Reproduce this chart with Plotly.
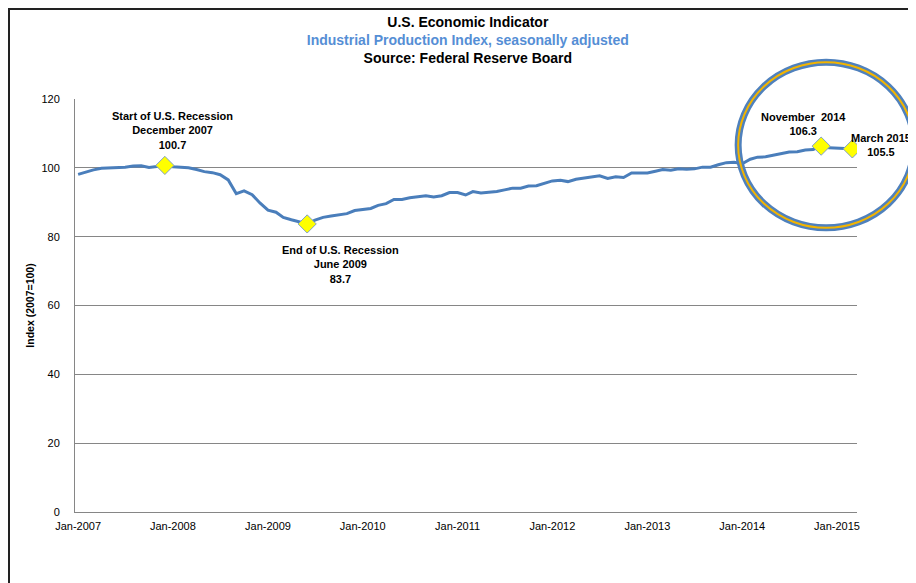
import plotly.graph_objects as go
import pandas as pd

# Industrial Production Index (2007=100), monthly, Jan 2007 - Mar 2015
months = pd.date_range("2007-01-01", periods=99, freq="MS")
ip_2007 = [98.1, 98.9, 99.4, 99.9, 100.0, 100.0, 100.2, 100.5, 100.6, 100.1, 100.5, 100.7]
ip_2008 = [100.3, 100.2, 100.0, 99.5, 98.9, 98.6, 98.0, 96.5, 92.5, 93.3, 92.2, 89.8]
ip_2009 = [87.7, 87.1, 85.6, 84.9, 84.3, 83.7, 84.8, 85.6, 86.0, 86.3, 86.7, 87.6]
ip_2010 = [88.0, 88.2, 89.1, 89.6, 90.8, 90.8, 91.3, 91.6, 91.9, 91.5, 91.9, 92.8]
ip_2011 = [92.8, 92.1, 93.1, 92.7, 92.9, 93.1, 93.6, 94.1, 94.1, 94.7, 94.8, 95.4]
ip_2012 = [96.2, 96.4, 96.0, 96.7, 97.0, 97.2, 97.7, 96.9, 97.4, 97.2, 98.5, 98.5]
ip_2013 = [98.5, 99.0, 99.5, 99.3, 99.7, 99.6, 99.7, 100.2, 100.2, 100.9, 101.5, 101.6]
ip_2014 = [101.2, 102.5, 103.1, 103.2, 103.7, 104.0, 104.6, 104.7, 105.2, 105.3, 106.3, 105.8]
ip_2015 = [105.6, 105.6, 105.5]
index_values = ip_2007 + ip_2008 + ip_2009 + ip_2010 + ip_2011 + ip_2012 + ip_2013 + ip_2014 + ip_2015

# highlighted points
marker_dates = ["2007-12-01", "2009-06-01", "2014-11-01", "2015-03-01"]
marker_values = [100.7, 83.7, 106.3, 105.5]
marker_labels = [
    "Start of U.S. Recession<br>December 2007<br>100.7",
    "End of U.S. Recession<br>June 2009<br>83.7",
    "November  2014<br>106.3",
    "March 2015<br>105.5",
]
# label offsets in px (dx, dy down)
label_offsets = [(8, -35), (33, 41), (-18, -22), (29, -4)]

LINE_BLUE = "#4A7EBB"
GRID = "#868686"
FONT = "Liberation Sans, Arial, sans-serif"

fig = go.Figure()
fig.add_trace(go.Scatter(
    x=months, y=index_values, mode="lines",
    line=dict(color=LINE_BLUE, width=3), hoverinfo="x+y",
))
fig.add_trace(go.Scatter(
    x=marker_dates, y=marker_values, mode="markers",
    marker=dict(symbol="diamond", size=14, color="#FFFF00",
                line=dict(color="#7F9FC8", width=1)),
))

for d, v, txt, (dx, dy) in zip(marker_dates, marker_values, marker_labels, label_offsets):
    fig.add_annotation(x=d, y=v, text="<b>%s</b>" % txt, showarrow=False,
                       xshift=dx, yshift=-dy, font=dict(size=11, color="black"),
                       align="center")

# highlight ring around the recent months (paper refs so it isn't clipped)
ring = dict(type="circle", xref="paper", yref="paper",
            x0=0.848, x1=1.073, y0=0.688, y1=1.089)
fig.add_shape(line=dict(color="#4F81BD", width=7), **ring)
fig.add_shape(line=dict(color="#F2B400", width=2), **ring)

# outer chart frame
fig.add_shape(type="rect", xref="paper", yref="paper",
              x0=-0.0844, x1=1.3, y0=-0.4, y1=1.2179,
              line=dict(color="#222222", width=2))

fig.update_layout(
    width=916, height=583,
    margin=dict(l=67, r=67, t=91, b=79),
    paper_bgcolor="white", plot_bgcolor="white",
    showlegend=False,
    font=dict(family=FONT, size=11, color="black"),
    title=dict(
        text="<b>U.S. Economic Indicator</b><br>"
             "<span style='color:#558ED5'><b>Industrial Production Index, seasonally adjusted</b></span><br>"
             "<b>Source: Federal Reserve Board</b>",
        x=0.502, xanchor="center", y=0.968, yanchor="top",
        font=dict(size=14, color="black", family=FONT),
    ),
)
fig.update_xaxes(
    range=["2006-12-20", "2015-03-19"],
    tick0="2007-01-01", dtick="M12", tickformat="%b-%Y",
    showgrid=False, showline=True, linecolor=GRID, linewidth=1,
    ticks="", ticklabelstandoff=4, zeroline=False,
    tickfont=dict(size=11, color="black"),
)
fig.update_yaxes(
    range=[0, 120], dtick=20, showgrid=True, gridcolor=GRID, gridwidth=1,
    showline=True, linecolor=GRID, linewidth=1, zeroline=False,
    ticks="", ticklabelstandoff=12,
    tickfont=dict(size=11, color="black"),
    title=dict(text="<b>Index (2007=100)</b>", font=dict(size=10.5), standoff=4),
)

fig.write_html("out.html")
